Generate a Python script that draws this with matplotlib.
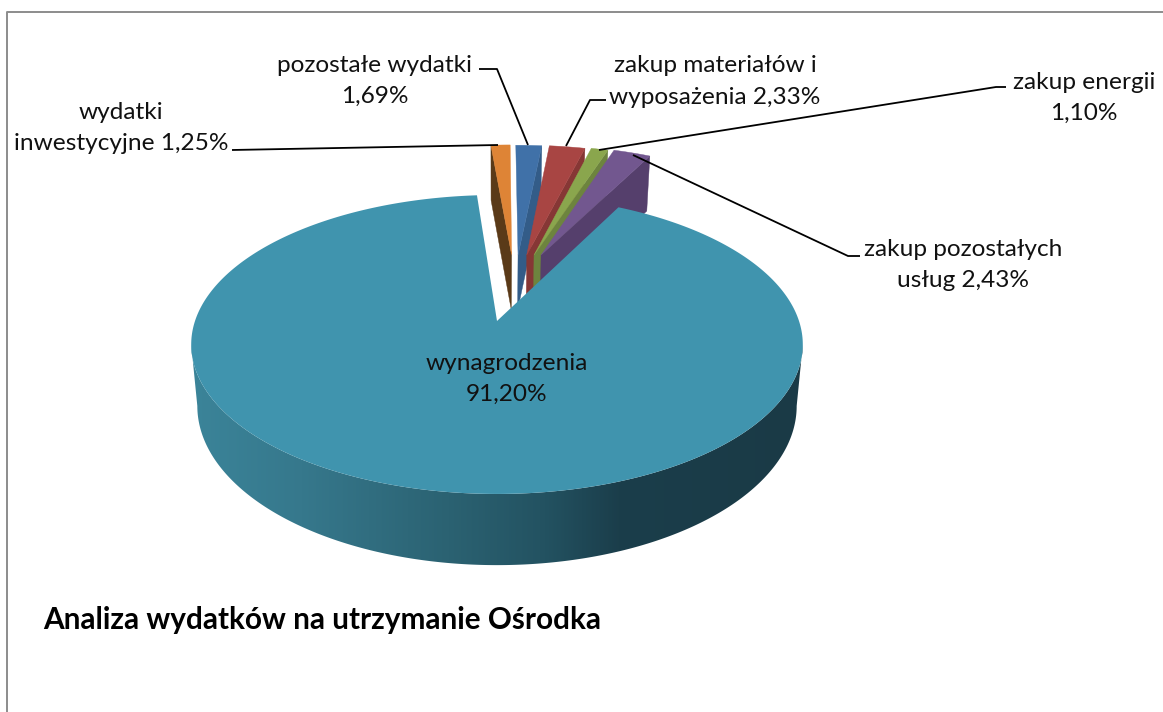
import numpy as np
import matplotlib
matplotlib.use('Agg')
import matplotlib.pyplot as plt
from matplotlib.colors import LinearSegmentedColormap
from matplotlib.patches import Polygon

title = 'Analiza wydatków na utrzymanie Ośrodka'
categories = ['wydatki\ninwestycyjne 1,25%', 'pozostałe wydatki\n1,69%', 'zakup materiałów i\nwyposażenia 2,33%',
              'zakup energii\n1,10%', 'zakup pozostałych\nusług 2,43%', 'wynagrodzenia\n91,20%']
values = [1.25, 1.69, 2.33, 1.10, 2.43, 91.20]

top_colors = ['#DE8436', '#4071A8', '#A84543', '#8AA64D', '#72578F', '#4094AE']
side_colors = ['#5A3A18', '#335C88', '#863735', '#6D843E', '#553F6C']

# pie geometry in pixels, found by measuring the picture
cx, cy = 497, 321
rx, ry = 302, 145.8
persp = 0.157
depth = 60
small_depth = 55
shrink = 0.98
start_angle = -4.4
# explosion of the small slices, in units of the radius
offsets = [(0.052, 0.49), (0.075, 0.487), (0.106, 0.487), (0.132, 0.487), (0.157, 0.487)]

# label centre, then leader line points
label_pos = [(121, 128), (374.5, 81), (715, 81.5), (1084, 98), (963, 265), (507, 379)]
leaders = [[(232, 150), (498, 145)],
           [(479, 69), (497, 69), (528, 145)],
           [(606, 100), (590, 100), (566, 146)],
           [(1006, 87), (996, 87), (599, 150)],
           [(860, 256), (848, 256), (633, 155)]]


def project(u, v, drop=0):
    u = np.asarray(u, dtype=float)
    v = np.asarray(v, dtype=float)
    w = 1 + persp * v
    x = rx * u / w
    y = -ry * v / w
    if np.any(drop):
        x = x * shrink
        y = y + drop
    return np.column_stack([cx + x, cy + y])


def rim(a1, a2, du=0, dv=0, n=100):
    t = np.radians(np.linspace(a1, a2, n))
    return du + np.sin(t), dv + np.cos(t)


plt.rcParams['font.family'] = ['Lato', 'DejaVu Sans']
fig = plt.figure(figsize=(11.63, 7.12), dpi=100)
ax = fig.add_axes([0, 0, 1, 1])

# frame, only left and top show
ax.plot([6.5, 6.5, 1163], [712, 11.5, 11.5], color='#8C8C8C', lw=1.4, zorder=1)

edges = start_angle + np.cumsum([0] + values) * 3.6

# small slices, left to right so that each one hides the dark side of the one before
for i in range(5):
    a1, a2 = edges[i], edges[i + 1]
    du, dv = offsets[i]
    cut = a1 if i == 0 else a2
    cu = [du, du + np.sin(np.radians(cut))]
    cv = [dv, dv + np.cos(np.radians(cut))]
    ax.fill(*np.vstack([project(cu, cv), project(cu, cv, small_depth)[::-1]]).T,
            color=side_colors[i], lw=0.3, zorder=2 + i)
    u, v = rim(a1, a2, du, dv, 30)
    ax.fill(*project(np.r_[du, u], np.r_[dv, v]).T, color=top_colors[i], lw=0.3, zorder=2 + i)

# big slice: front wall is a gradient clipped to the wall outline, then the top face
shade = LinearSegmentedColormap.from_list('rim', [(0, '#3B8499'), (0.18, '#36788C'), (0.42, '#2B6272'),
                                                  (0.58, '#235261'), (0.70, '#1B3E4B'), (1, '#1A3A46')])
# the outline turns where the rim is widest on screen
side = np.degrees(np.arccos(-persp))
u, v = rim(side, 360 - side, n=300)
wall = np.vstack([project(u, v), project(u, v, depth / (1 + persp * v))[::-1]])
clip = Polygon(wall, closed=True, transform=ax.transData, fc='none', ec='none')
ax.add_patch(clip)
gradient = np.linspace(0, 1, 400)[None, :]
im = ax.imshow(gradient, cmap=shade, vmin=0, vmax=1, extent=(191, 803, 600, 300),
               aspect='auto', zorder=8, interpolation='bilinear')
im.set_clip_path(clip)

u, v = rim(edges[5], edges[6], n=400)
ax.fill(*project(np.r_[0, u], np.r_[0, v]).T, color=top_colors[5], lw=0, zorder=9)

for line in leaders:
    xs, ys = zip(*line)
    ax.plot(xs, ys, color='black', lw=1.3, zorder=10, solid_capstyle='butt')

for text, (x, y) in zip(categories, label_pos):
    ax.text(x, y, text, ha='center', va='center', fontsize=17.6, color='#111111',
            linespacing=1.62, zorder=11)

ax.text(43, 620, title, ha='left', va='center', fontsize=21.4, fontweight='bold', color='black', zorder=11)

ax.set_xlim(0, 1163)
ax.set_ylim(712, 0)
ax.axis('off')

fig.savefig('out.png', dpi=100)
